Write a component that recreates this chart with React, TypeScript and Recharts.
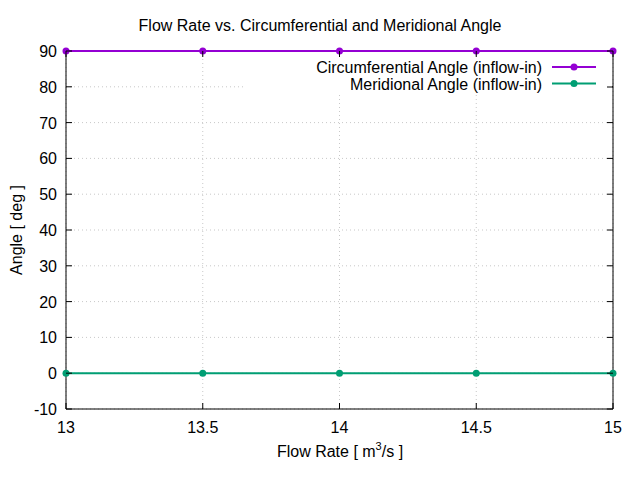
import {
  CartesianGrid,
  Line,
  LineChart,
  ReferenceArea,
  XAxis,
  YAxis,
} from "recharts";

const flowRates = [13, 13.5, 14, 14.5, 15];
const circumferentialAngle = [90, 90, 90, 90, 90];
const meridionalAngle = [0, 0, 0, 0, 0];
const xTicks = [13, 13.5, 14, 14.5, 15];
const yTicks = [-10, 0, 10, 20, 30, 40, 50, 60, 70, 80, 90];

const series = [
  { key: "circ", label: "Circumferential Angle (inflow-in)", color: "#9400d3" },
  { key: "merid", label: "Meridional Angle (inflow-in)", color: "#009e73" },
];

const data = flowRates.map((x, i) => ({
  x,
  circ: circumferentialAngle[i],
  merid: meridionalAngle[i],
}));

const FONT = "'Liberation Sans', Arial, sans-serif";
const FS = 16;
const LEFT = 66;
const RIGHT = 613;
const TOP = 51;
const BOTTOM = 409;
const TICK = 6;

function XTick({ x, payload }: any) {
  return (
    <g>
      <line x1={x} y1={BOTTOM} x2={x} y2={BOTTOM - TICK} stroke="#000" />
      <line x1={x} y1={TOP} x2={x} y2={TOP + TICK} stroke="#000" />
      <text x={x} y={BOTTOM + 24} textAnchor="middle" fontSize={FS} fontFamily={FONT} fill="#000">
        {payload.value}
      </text>
    </g>
  );
}

function YTick({ y, payload }: any) {
  return (
    <g>
      <line x1={LEFT} y1={y} x2={LEFT + TICK} y2={y} stroke="#000" />
      <line x1={RIGHT} y1={y} x2={RIGHT - TICK} y2={y} stroke="#000" />
      <text x={LEFT - 9} y={y + 6} textAnchor="end" fontSize={FS} fontFamily={FONT} fill="#000">
        {payload.value}
      </text>
    </g>
  );
}

export default function App() {
  return (
    <div style={{ width: 640, height: 480, position: "fixed", left: 0, top: 0, background: "#fff" }}>
      <LineChart
        width={640}
        height={480}
        data={data}
        margin={{ top: TOP, right: 640 - RIGHT, left: 0, bottom: 0 }}
      >
        <CartesianGrid stroke="#b0b0b0" strokeDasharray="1 3" strokeWidth={0.7} />
        <XAxis
          dataKey="x"
          type="number"
          domain={[13, 15]}
          ticks={xTicks}
          height={480 - BOTTOM}
          tickLine={false}
          axisLine={false}
          tick={<XTick />}
        />
        <YAxis
          type="number"
          domain={[-10, 90]}
          ticks={yTicks}
          width={LEFT}
          tickLine={false}
          axisLine={false}
          tick={<YTick />}
        />
        <ReferenceArea x1={13} x2={15} y1={-10} y2={90} fill="#fff" fillOpacity={0} stroke="#000" strokeWidth={1} />
        {series.map((s) => (
          <Line
            key={s.key}
            dataKey={s.key}
            name={s.label}
            stroke={s.color}
            strokeWidth={2}
            dot={{ r: 3.5, fill: s.color, stroke: s.color, strokeWidth: 0 }}
            activeDot={false}
            isAnimationActive={false}
          />
        ))}
      </LineChart>
      <svg width={640} height={480} style={{ position: "absolute", left: 0, top: 0, pointerEvents: "none" }}>
        <rect x={245} y={58} width={RIGHT - 245 - 1} height={36} fill="#fff" />
        {series.map((s, i) => {
          const y = 67 + i * 16.5;
          return (
            <g key={s.key}>
              <text x={542} y={y + 6} textAnchor="end" fontSize={FS} fontFamily={FONT} fill="#000">
                {s.label}
              </text>
              <line x1={552} y1={y} x2={596} y2={y} stroke={s.color} strokeWidth={2} />
              <circle cx={574} cy={y} r={3.5} fill={s.color} />
            </g>
          );
        })}
        <line x1={RIGHT} y1={87} x2={RIGHT - TICK} y2={87} stroke="#000" />
        <text x={320} y={31} textAnchor="middle" fontSize={FS} fontFamily={FONT} fill="#000">
          Flow Rate vs. Circumferential and Meridional Angle
        </text>
        <text x={340} y={457} textAnchor="middle" fontSize={FS} fontFamily={FONT} fill="#000">
          Flow Rate [ m<tspan fontSize={11} dy={-7}>3</tspan>
          <tspan dy={7}>/s ]</tspan>
        </text>
        <text
          x={22}
          y={230}
          textAnchor="middle"
          fontSize={FS}
          fontFamily={FONT}
          fill="#000"
          transform="rotate(-90 22 230)"
        >
          Angle [ deg ]
        </text>
      </svg>
    </div>
  );
}
